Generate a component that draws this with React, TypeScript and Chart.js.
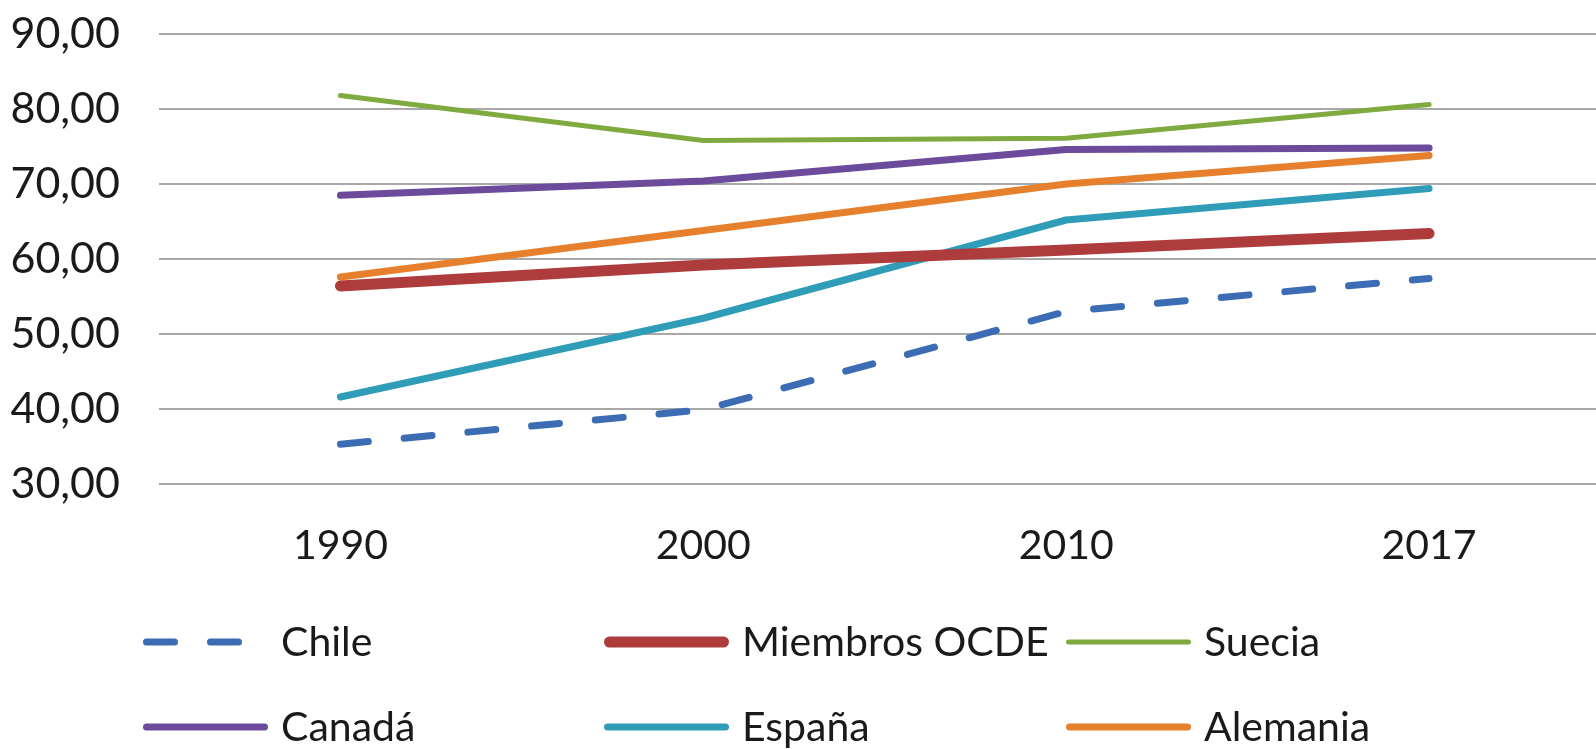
import React, { useEffect, useRef } from "react";
import { Chart, registerables } from "chart.js";

Chart.register(...registerables);

const categories = ["1990", "2000", "2010", "2017"];
const yTicks = [30, 40, 50, 60, 70, 80, 90];

const chile = [35.3, 39.9, 53.0, 57.4];
const ocde = [56.4, 59.2, 61.2, 63.4];
const suecia = [81.8, 75.8, 76.1, 80.6];
const canada = [68.5, 70.4, 74.6, 74.8];
const espana = [41.6, 52.1, 65.2, 69.4];
const alemania = [57.6, 63.8, 70.0, 73.8];

const seriesNames = ["Chile", "Miembros OCDE", "Suecia", "Canadá", "España", "Alemania"];
const seriesValues = [chile, ocde, suecia, canada, espana, alemania];
const seriesColors = ["#3C6DB4", "#AF3C3C", "#7FAA3F", "#6C4B9C", "#2F9DB8", "#E6802D"];
const seriesWidths = [7, 11, 5, 7, 7, 7];
const seriesDash: number[][] = [[28, 36], [], [], [], [], []];

const FONT = "Lato, 'Noto Sans', sans-serif";
const TEXT = "#1a1a1a";

const legendPlugin = {
  id: "customLegend",
  afterDraw(chart: any) {
    const ctx = chart.ctx as CanvasRenderingContext2D;
    const cols = [143, 604, 1066];
    const rows = [642, 727];
    const baselines = [656, 741];
    const symLen = 125;
    chart.data.datasets.forEach((ds: any, i: number) => {
      const c = i % 3;
      const r = Math.floor(i / 3);
      const x = cols[c];
      const y = rows[r];
      const w = ds.borderWidth;
      ctx.save();
      ctx.strokeStyle = ds.borderColor;
      ctx.lineWidth = w;
      ctx.lineCap = "round";
      ctx.setLineDash(ds.borderDash || []);
      ctx.beginPath();
      ctx.moveTo(x + w / 2, y);
      ctx.lineTo(x + symLen - w / 2, y);
      ctx.stroke();
      ctx.setLineDash([]);
      ctx.fillStyle = TEXT;
      ctx.font = `41px ${FONT}`;
      ctx.textAlign = "left";
      ctx.textBaseline = "alphabetic";
      ctx.fillText(ds.label, x + 138, baselines[r]);
      ctx.restore();
    });
  },
};

export default function App() {
  const ref = useRef<HTMLCanvasElement | null>(null);
  useEffect(() => {
    if (!ref.current) return;
    const chart = new Chart(ref.current, {
      type: "line",
      data: {
        datasets: seriesNames.map((name, i) => ({
          label: name,
          data: seriesValues[i].map((v, j) => ({ x: j, y: v })),
          borderColor: seriesColors[i],
          backgroundColor: seriesColors[i],
          borderWidth: seriesWidths[i],
          borderDash: seriesDash[i],
          borderCapStyle: "round",
          borderJoinStyle: "round",
          pointRadius: 0,
          tension: 0,
          fill: false,
        })),
      },
      options: {
        animation: false,
        responsive: false,
        devicePixelRatio: 1,
        layout: { padding: { top: 34, left: 0, right: 0, bottom: 0 } },
        plugins: { legend: { display: false }, tooltip: { enabled: false } },
        scales: {
          x: {
            type: "linear",
            min: -0.5,
            max: 3.46,
            grid: { display: false, drawTicks: false },
            border: { display: false },
            afterBuildTicks: (scale: any) => {
              scale.ticks = categories.map((_, i) => ({ value: i }));
            },
            afterFit: (scale: any) => {
              scale.height = 265;
              scale.paddingLeft = 0;
              scale.paddingRight = 0;
            },
            ticks: {
              padding: 37,
              maxRotation: 0,
              autoSkip: false,
              color: TEXT,
              font: { family: FONT, size: 41 },
              callback: (v: any) => categories[v as number] ?? "",
            },
          },
          y: {
            min: 30,
            max: 90,
            afterBuildTicks: (scale: any) => {
              scale.ticks = yTicks.map((v) => ({ value: v }));
            },
            afterFit: (scale: any) => {
              scale.width = 159;
              scale.paddingTop = 0;
              scale.paddingBottom = 0;
            },
            grid: { color: "#a8a8a8", lineWidth: 2, drawTicks: false },
            border: { display: false },
            ticks: {
              padding: 39,
              color: TEXT,
              font: { family: FONT, size: 43 },
              callback: (v: any) => Number(v).toFixed(2).replace(".", ","),
            },
          },
        },
      },
      plugins: [legendPlugin],
    } as any);
    return () => chart.destroy();
  }, []);
  return (
    <div style={{ position: "fixed", left: 0, top: 0, width: 1596, height: 749, background: "#fff" }}>
      <canvas ref={ref} width={1596} height={749} style={{ display: "block" }} />
    </div>
  );
}
